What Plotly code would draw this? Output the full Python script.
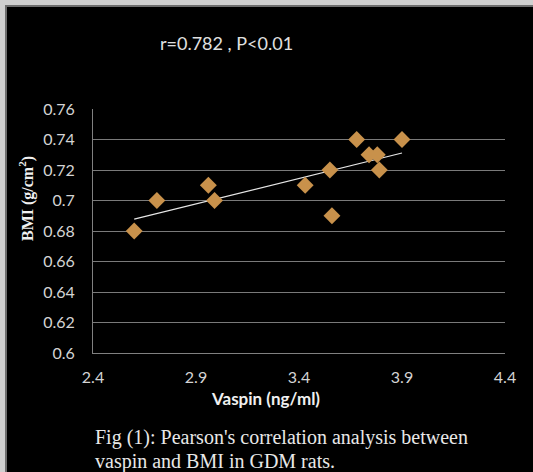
import numpy as np
import plotly.graph_objects as go

vaspin = [2.60, 2.71, 2.96, 2.99, 3.43, 3.55, 3.56, 3.68, 3.74, 3.78, 3.79, 3.90]
bmi = [0.68, 0.70, 0.71, 0.70, 0.71, 0.72, 0.69, 0.74, 0.73, 0.73, 0.72, 0.74]
x_ticks = [2.4, 2.9, 3.4, 3.9, 4.4]
y_ticks = [0.6, 0.62, 0.64, 0.66, 0.68, 0.7, 0.72, 0.74, 0.76]
y_ticklabels = ["0.6", "0.62", "0.64", "0.66", "0.68", "0.7", "0.72", "0.74", "0.76"]

W, H = 533, 472
L, R, T, B = 93, 28, 109, 119
pw, ph = W - L - R, H - T - B

def px_x(p):
    return (p - L) / pw

def px_y(p):
    return (H - B - p) / ph

slope, intercept = np.polyfit(vaspin, bmi, 1)
xt = [min(vaspin), max(vaspin)]
yt = [slope * v + intercept for v in xt]

fig = go.Figure()
fig.add_trace(go.Scatter(x=xt, y=yt, mode="lines",
                         line=dict(color="#e6e6e6", width=1.2), hoverinfo="skip"))
fig.add_trace(go.Scatter(x=vaspin, y=bmi, mode="markers",
                         marker=dict(symbol="diamond", size=13, color="#c8914b",
                                     line=dict(width=0))))

tickfont = dict(family="Lato, Open Sans, sans-serif", size=16, color="#d4d4d4")
fig.update_xaxes(range=[2.4, 4.4], tickvals=x_ticks, ticktext=[str(v) for v in x_ticks],
                 showgrid=False, zeroline=False, showline=True, linecolor="#808080",
                 linewidth=1, ticks="outside", ticklen=10, tickcolor="rgba(0,0,0,0)",
                 tickfont=tickfont, fixedrange=True)
fig.update_yaxes(range=[0.6, 0.76], tickvals=y_ticks, ticktext=y_ticklabels,
                 showgrid=True, gridcolor="#7a7a7a", gridwidth=1, zeroline=False,
                 showline=True, linecolor="#808080", linewidth=1,
                 ticks="outside", ticklen=14, tickcolor="rgba(0,0,0,0)",
                 tickfont=tickfont, fixedrange=True)

def ann(text, x, y, font, xanchor="center", **kw):
    return dict(text=text, x=px_x(x), y=px_y(y), xref="paper", yref="paper",
                xanchor=xanchor, yanchor="middle", showarrow=False, font=font, **kw)

sans = "Lato, Open Sans, sans-serif"
serif = "Liberation Serif, Times New Roman, serif"
annotations = [
    ann("r=0.782 , P<0.01", 226, 43, dict(family=sans, size=18, color="#e0e0e0")),
    ann("<b>Vaspin (ng/ml)</b>", 265, 399, dict(family=sans, size=17, color="#f0f0f0")),
    ann("<b>BMI (g/cm<sup>2</sup>)</b>", 26, 199, dict(family=serif, size=16, color="#f0f0f0"),
        textangle=-90),
    ann("Fig (1): Pearson's correlation analysis between", 93, 437,
        dict(family=serif, size=20, color="#e8e8e8"), xanchor="left"),
    ann("vaspin and BMI in GDM rats.", 93, 461,
        dict(family=serif, size=20, color="#e8e8e8"), xanchor="left"),
]

shapes = [
    dict(type="rect", xref="paper", yref="paper", x0=px_x(0), x1=px_x(W), y0=px_y(0), y1=px_y(5),
         fillcolor="#d0d0d0", line=dict(width=0), layer="above"),
    dict(type="rect", xref="paper", yref="paper", x0=px_x(0), x1=px_x(5), y0=px_y(0), y1=px_y(H),
         fillcolor="#d0d0d0", line=dict(width=0), layer="above"),
    dict(type="rect", xref="paper", yref="paper", x0=px_x(5), x1=px_x(W), y0=px_y(5), y1=px_y(7),
         fillcolor="#6e6e6e", line=dict(width=0), layer="above"),
    dict(type="rect", xref="paper", yref="paper", x0=px_x(5), x1=px_x(7), y0=px_y(5), y1=px_y(H),
         fillcolor="#6e6e6e", line=dict(width=0), layer="above"),
]

fig.update_layout(width=W, height=H, margin=dict(l=L, r=R, t=T, b=B),
                  paper_bgcolor="black", plot_bgcolor="black", showlegend=False,
                  annotations=annotations, shapes=shapes)

fig.write_html("out.html", config={"displayModeBar": False},
               post_script="document.body.style.margin='0';document.body.style.overflow='hidden';")
